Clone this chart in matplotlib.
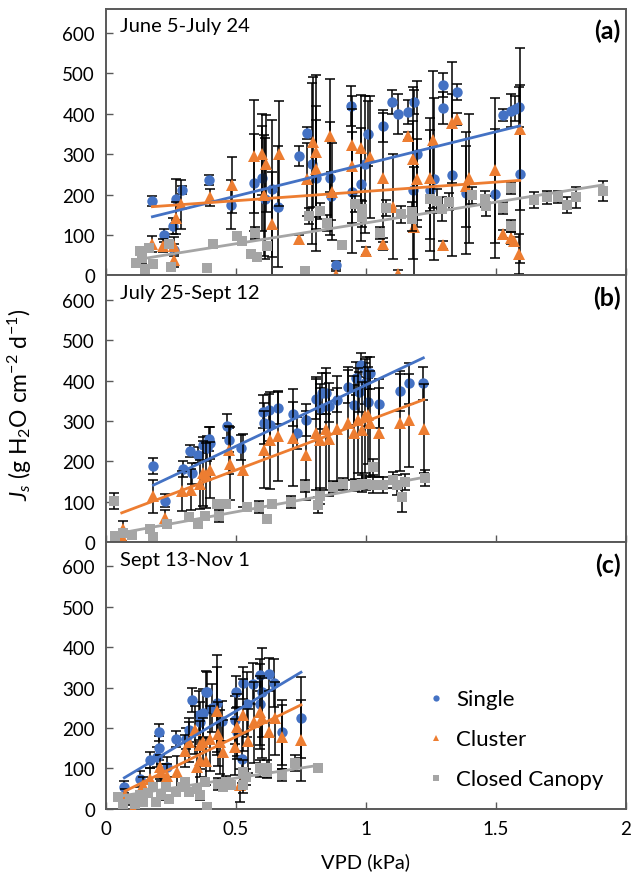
import matplotlib
matplotlib.use("Agg")
import matplotlib.pyplot as plt
import numpy as np

plt.rcParams['font.family'] = ['Lato', 'DejaVu Sans']
plt.rcParams['mathtext.fontset'] = 'custom'
plt.rcParams['mathtext.rm'] = 'Lato'
plt.rcParams['mathtext.it'] = 'Lato:italic'

# ---- panel (a) June 5 - July 24 ----
a_single_x = [0.178, 0.221, 0.256, 0.26, 0.267, 0.291, 0.397, 0.481, 0.571, 0.601, 0.612, 0.64, 0.662,
              0.744, 0.773, 0.793, 0.808, 0.862, 0.867, 0.885, 0.941, 0.945, 0.981, 0.996, 1.009, 1.064,
              1.099, 1.122, 1.163, 1.186, 1.195, 1.182, 1.246, 1.262, 1.295, 1.297, 1.349, 1.333, 1.387,
              1.496, 1.526, 1.56, 1.573, 1.588, 1.592]
a_single_y = [184, 99, 122, 64, 188, 212, 237, 175, 229, 241, 190, 215, 170,
              295, 352, 277, 240, 240, 196, 25, 419, 206, 226, 275, 351, 370,
              430, 400, 405, 430, 300, 211, 211, 238, 415, 471, 454, 249, 204,
              202, 397, 408, 413, 417, 252]
a_single_err = [12, 15, 20, 15, 50, 10, 12, 60, 120, 130, 150, 170, 150,
                25, 15, 200, 180, 140, 60, 10, 50, 150, 140, 170, 80, 40,
                30, 50, 30, 30, 180, 170, 150, 200, 40, 30, 20, 200, 150,
                160, 15, 40, 30, 50, 220]

a_cluster_x = [0.178, 0.218, 0.262, 0.262, 0.269, 0.287, 0.4, 0.483, 0.571, 0.601, 0.614, 0.609, 0.64,
               0.664, 0.744, 0.773, 0.795, 0.808, 0.808, 0.862, 0.87, 0.885, 0.945, 0.945, 0.981, 0.999,
               1.015, 1.064, 1.066, 1.103, 1.124, 1.163, 1.182, 1.186, 1.197, 1.246, 1.259, 1.295, 1.333,
               1.349, 1.397, 1.387, 1.496, 1.526, 1.56, 1.569, 1.592, 1.59]
a_cluster_y = [77, 74, 74, 37, 143, 176, 193, 224, 295, 300, 277, 198, 127,
               301, 89, 238, 330, 305, 264, 346, 207, 0, 324, 271, 316, 61,
               293, 242, 77, 170, 3, 345, 287, 119, 238, 240, 336, 76, 378,
               388, 240, 221, 260, 102, 92, 86, 362, 53]
a_cluster_err = [20, 15, 20, 15, 40, 60, 20, 70, 140, 100, 120, 150, 130,
                 130, 10, 90, 160, 190, 120, 140, 120, 10, 120, 140, 130, 10,
                 150, 160, 15, 130, 10, 10, 180, 150, 100, 150, 170, 10, 150,
                 15, 160, 100, 180, 10, 15, 10, 200, 50]

a_closed_x = [0.115, 0.131, 0.137, 0.15, 0.163, 0.182, 0.24, 0.249, 0.387, 0.413, 0.503, 0.522, 0.557,
              0.573, 0.582, 0.618, 0.765, 0.782, 0.823, 0.851, 0.908, 0.958, 0.983, 0.983, 1.054, 1.077,
              1.135, 1.176, 1.178, 1.246, 1.272, 1.291, 1.32, 1.407, 1.458, 1.462, 1.526, 1.56, 1.56,
              1.646, 1.697, 1.74, 1.774, 1.808, 1.913]
a_closed_y = [30, 61, 44, 16, 69, 28, 77, 20, 18, 79, 98, 86, 54,
              106, 46, 73, 10, 148, 159, 130, 75, 176, 165, 145, 104, 166,
              151, 156, 139, 190, 184, 164, 183, 198, 190, 172, 166, 216, 122,
              187, 193, 194, 175, 193, 209]
a_closed_err = [10, 10, 12, 8, 10, 10, 10, 8, 5, 8, 10, 10, 10,
                15, 10, 10, 5, 20, 20, 20, 8, 20, 20, 25, 15, 20,
                20, 25, 30, 30, 30, 30, 20, 20, 20, 25, 15, 15, 15,
                20, 15, 15, 20, 25, 25]

# ---- panel (b) July 25 - Sept 12 ----
b_single_x = [0.182, 0.227, 0.295, 0.323, 0.33, 0.355, 0.372, 0.387, 0.397, 0.4, 0.467, 0.474, 0.519,
              0.605, 0.609, 0.627, 0.66, 0.63, 0.72, 0.736, 0.768, 0.807, 0.823, 0.832, 0.846, 0.857,
              0.89, 0.93, 0.954, 0.962, 0.974, 0.981, 0.996, 1.003, 1.009, 1.015, 1.05, 1.131, 1.167, 1.221]
b_single_y = [188, 103, 180, 226, 170, 215, 240, 232, 255, 245, 288, 252, 234,
              323, 294, 327, 333, 290, 318, 270, 303, 354, 331, 368, 368, 337,
              352, 385, 339, 405, 372, 438, 393, 418, 347, 418, 343, 374, 393, 393]
b_single_err = [20, 15, 20, 15, 25, 20, 20, 30, 30, 40, 30, 30, 30,
                40, 50, 40, 40, 40, 30, 40, 40, 50, 50, 50, 50, 40,
                30, 40, 50, 40, 50, 30, 50, 40, 60, 40, 60, 50, 50, 40]

b_cluster_x = [0.064, 0.06, 0.182, 0.227, 0.291, 0.326, 0.362, 0.374, 0.385, 0.4, 0.471, 0.477, 0.526,
               0.608, 0.631, 0.66, 0.72, 0.769, 0.808, 0.823, 0.846, 0.859, 0.89, 0.93, 0.954, 0.968,
               0.983, 0.996, 1.009, 1.015, 1.05, 1.131, 1.167, 1.223]
b_cluster_y = [33, 12, 113, 60, 126, 130, 143, 170, 165, 178, 228, 194, 178,
               229, 252, 262, 258, 215, 269, 252, 280, 255, 280, 294, 270, 302,
               277, 312, 314, 294, 271, 296, 302, 281]
b_cluster_err = [20, 10, 40, 20, 50, 50, 60, 80, 80, 70, 60, 90, 90,
                 95, 120, 110, 120, 110, 140, 140, 150, 140, 130, 140, 140, 130,
                 120, 140, 120, 130, 110, 120, 115, 110]

b_closed_x = [0.031, 0.035, 0.065, 0.099, 0.169, 0.182, 0.233, 0.32, 0.355, 0.381, 0.426, 0.436, 0.445,
              0.46, 0.541, 0.59, 0.62, 0.637, 0.71, 0.765, 0.817, 0.823, 0.874, 0.91, 0.958, 0.983,
              1.0, 1.028, 1.028, 1.067, 1.105, 1.118, 1.137, 1.15, 1.227]
b_closed_y = [102, 14, 22, 17, 33, 12, 45, 62, 45, 64, 95, 64, 95,
              95, 87, 87, 58, 95, 99, 138, 91, 115, 136, 143, 141, 145,
              145, 186, 141, 141, 153, 141, 112, 149, 159]
b_closed_err = [20, 10, 10, 10, 10, 8, 10, 10, 10, 10, 10, 15, 10,
                10, 10, 15, 10, 10, 15, 15, 20, 20, 15, 15, 15, 20,
                15, 20, 20, 20, 20, 25, 38, 20, 20]

# ---- panel (c) Sept 13 - Nov 1 ----
c_single_x = [0.07, 0.131, 0.167, 0.195, 0.205, 0.205, 0.233, 0.269, 0.308, 0.317, 0.33, 0.359, 0.36,
              0.374, 0.385, 0.39, 0.406, 0.426, 0.445, 0.496, 0.5, 0.503, 0.522, 0.528, 0.541, 0.567,
              0.592, 0.599, 0.592, 0.627, 0.646, 0.676, 0.75]
c_single_y = [54, 73, 120, 129, 151, 189, 104, 172, 174, 195, 270, 231, 215,
              236, 290, 288, 249, 261, 217, 220, 289, 191, 124, 311, 259, 310,
              331, 289, 259, 333, 311, 189, 226]
c_single_err = [15, 20, 20, 25, 30, 20, 25, 20, 25, 30, 30, 60, 50,
                60, 50, 50, 60, 120, 50, 60, 40, 60, 60, 40, 80, 50,
                40, 110, 100, 40, 60, 80, 100]

c_cluster_x = [0.073, 0.103, 0.142, 0.17, 0.208, 0.21, 0.233, 0.272, 0.304, 0.317, 0.342, 0.349, 0.362,
               0.36, 0.374, 0.385, 0.4, 0.426, 0.43, 0.44, 0.451, 0.496, 0.503, 0.528, 0.515, 0.547,
               0.569, 0.592, 0.6, 0.627, 0.65, 0.676, 0.75]
c_cluster_y = [33, 0, 60, 75, 104, 90, 81, 91, 143, 166, 195, 104, 158,
               120, 166, 118, 174, 242, 185, 165, 141, 153, 203, 232, 58, 168,
               214, 239, 225, 191, 224, 178, 170]
c_cluster_err = [15, 10, 20, 25, 30, 20, 30, 40, 40, 50, 60, 50, 60,
                 40, 60, 60, 80, 110, 80, 80, 80, 70, 80, 90, 40, 80,
                 100, 90, 100, 100, 90, 80, 100]

c_closed_x = [0.047, 0.063, 0.09, 0.11, 0.13, 0.14, 0.16, 0.182, 0.19, 0.21, 0.23, 0.24, 0.27,
              0.29, 0.304, 0.32, 0.35, 0.36, 0.38, 0.387, 0.43, 0.45, 0.46, 0.48, 0.528, 0.528,
              0.54, 0.592, 0.618, 0.62, 0.676, 0.727, 0.817]
c_closed_y = [29, 12, 25, 12, 33, 16, 40, 54, 16, 33, 54, 25, 41,
              54, 66, 41, 50, 33, 66, 4, 62, 54, 66, 58, 91, 58,
              79, 100, 91, 100, 83, 114, 101]
c_closed_err = [10, 8, 10, 8, 10, 8, 10, 10, 8, 10, 10, 10, 10,
                10, 10, 10, 10, 10, 10, 5, 15, 10, 15, 10, 30, 20,
                20, 20, 15, 20, 15, 20, 10]

# linear trend lines: (slope, intercept) for Single, Cluster, Closed Canopy
a_trend = [(159, 117), (46, 162), (103, 27)]
b_trend = [(303, 86), (241, 58), (118, 16)]
c_trend = [(384, 50), (315, 21), (100, 26)]

periods = ['June 5-July 24', 'July 25-Sept 12', 'Sept 13-Nov 1']
panel_tags = ['(a)', '(b)', '(c)']
series_names = ['Single', 'Cluster', 'Closed Canopy']

colors = ['#4472C4', '#ED7D31', '#A5A5A5']
markers = ['o', '^', 's']
msizes = [7.5, 8, 7]

panels = [
    [(a_single_x, a_single_y, a_single_err), (a_cluster_x, a_cluster_y, a_cluster_err),
     (a_closed_x, a_closed_y, a_closed_err)],
    [(b_single_x, b_single_y, b_single_err), (b_cluster_x, b_cluster_y, b_cluster_err),
     (b_closed_x, b_closed_y, b_closed_err)],
    [(c_single_x, c_single_y, c_single_err), (c_cluster_x, c_cluster_y, c_cluster_err),
     (c_closed_x, c_closed_y, c_closed_err)],
]
trends = [a_trend, b_trend, c_trend]

fig, axes = plt.subplots(3, 1, figsize=(6.32, 8.87), dpi=100, sharex=True)
fig.subplots_adjust(left=0.168, right=0.99, top=0.989, bottom=0.087, hspace=0)

spine_col = '#595959'
for i, ax in enumerate(axes):
    handles = []
    for k, (xs, ys, es) in enumerate(panels[i]):
        ax.errorbar(xs, ys, yerr=es, fmt='none', ecolor='black', elinewidth=1.1,
                    capsize=3.5, capthick=1.1, zorder=2 + k)
        h, = ax.plot(xs, ys, linestyle='none', marker=markers[k], color=colors[k],
                     markersize=msizes[k], markeredgewidth=0, zorder=2.5 + k, label=series_names[k])
        handles.append(h)
    # trend lines
    for k, (xs, ys, es) in enumerate(panels[i]):
        m, b = trends[i][k]
        xx = np.array([min(xs), max(xs)])
        ax.plot(xx, m * xx + b, color=colors[k], linewidth=2, zorder=6)

    ax.set_xlim(0, 2)
    ax.set_ylim(0, 660)
    ax.set_yticks(range(0, 700, 100))
    ax.set_xticks([0, 0.5, 1, 1.5, 2])
    ax.set_xticklabels(['0', '0.5', '1', '1.5', '2'])
    ax.tick_params(direction='in', length=5, width=1, color=spine_col, labelsize=13.5,
                   labelcolor='black', pad=8)
    for s in ax.spines.values():
        s.set_color(spine_col)
        s.set_linewidth(1.4)
    ax.text(0.027, 0.968, periods[i], transform=ax.transAxes, ha='left', va='top', fontsize=14.5)
    ax.text(0.99, 0.962, panel_tags[i], transform=ax.transAxes, ha='right', va='top',
            fontsize=18, fontweight='bold')

    if i == 2:
        ax.legend(handles=handles, loc='center left', bbox_to_anchor=(0.58, 0.26), frameon=False,
                  fontsize=16, markerscale=0.6, handlelength=0.8, handletextpad=0.5,
                  labelspacing=0.9)

axes[2].set_xlabel('VPD (kPa)', fontsize=14.5, labelpad=11)
fig.text(0.032, 0.543, r'$J_s$ (g H$_2$O cm$^{-2}$ d$^{-1}$)', rotation=90,
         ha='center', va='center', fontsize=16.5)

fig.savefig('out.png', dpi=100)
